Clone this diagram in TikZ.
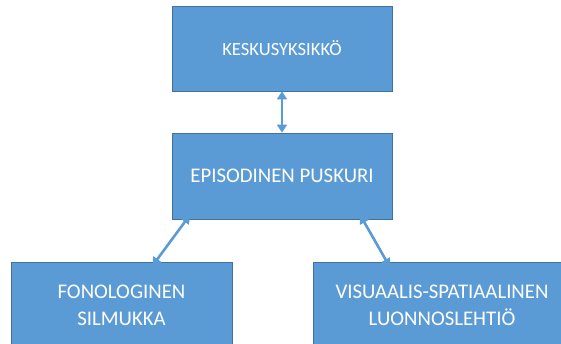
\documentclass[tikz,border=0pt]{standalone}
\usepackage{fontspec}
\setmainfont{Carlito}
\usetikzlibrary{arrows.meta}
\definecolor{boxblue}{HTML}{5B9BD5}
\definecolor{boxedge}{HTML}{41719C}
\begin{document}
\begin{tikzpicture}[x=1pt,y=-1pt,
  blk/.style={draw=boxedge,line width=0.8pt,fill=boxblue,text=white,
    font=\fontsize{20.8}{27}\selectfont,align=center,inner sep=0pt},
  link/.style={draw=boxblue,line width=2.6pt,
    {Triangle[length=8pt,width=10pt]}-{Triangle[length=8pt,width=10pt]}}]
\useasboundingbox (0,0) rectangle (561,344);
\clip (0,0) rectangle (561,344);
\node[blk,minimum width=220pt,minimum height=85pt,font=\fontsize{18.6}{24}\selectfont] (top) at (282,48.5) {KESKUSYKSIKKÖ};
\node[blk,minimum width=220pt,minimum height=86pt] (mid) at (282,176) {EPISODINEN PUSKURI};
\node[blk,minimum width=221pt,minimum height=86pt] (fon) at (121.5,305) {FONOLOGINEN\\SILMUKKA};
\node[blk,minimum width=258pt,minimum height=86pt] (vis) at (442,305) {VISUAALIS-SPATIAALINEN\\LUONNOSLEHTIÖ};
\draw[link] (top.south) -- (mid.north);
\draw[link] ([xshift=18pt,yshift=4pt]mid.south west) -- ([xshift=142pt,yshift=-4pt]fon.north west);
\draw[link] ([xshift=-32pt,yshift=4pt]mid.south east) -- ([xshift=77pt,yshift=-5pt]vis.north west);
\end{tikzpicture}
\end{document}
